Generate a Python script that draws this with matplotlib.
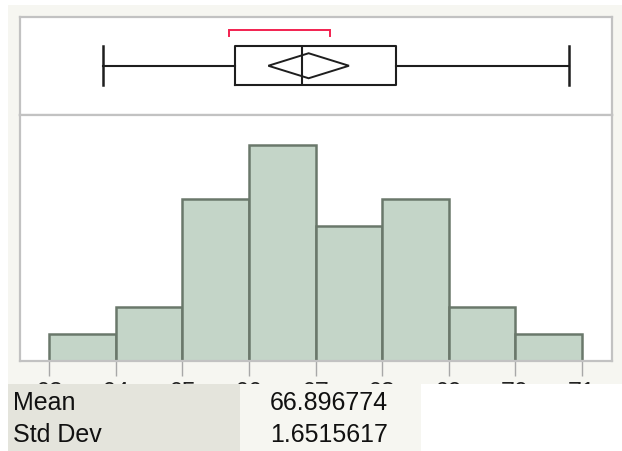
import matplotlib
matplotlib.use("Agg")
import matplotlib.pyplot as plt
from matplotlib.patches import Rectangle, Polygon
import numpy as np

# ---- data ----
bin_edges = [63, 64, 65, 66, 67, 68, 69, 70, 71]
counts = [1, 2, 6, 8, 5, 6, 2, 1]
tick_labels = ["63", "64", "65", "66", "67", "68", "69", "70", "71"]
whisker_low = 63.81
q1 = 65.79
median = 66.79
q3 = 68.21
whisker_high = 70.81
mean = 66.896774
std_dev = 1.6515617
n_obs = 31
t_crit = 2.042
shortest_half = [65.70, 67.22]
stat_names = ["Mean", "Std Dev"]
stat_values = ["66.896774", "1.6515617"]

W, H = 622, 452
fig = plt.figure(figsize=(W / 100, H / 100), dpi=100)
fig.patch.set_facecolor("white")

def fx(px):
    return px / W

def fy(py):
    return 1 - py / H

# outer light background
fig.patches.append(Rectangle((fx(8), fy(385)), 1 - fx(8), fy(6) - fy(385),
                             transform=fig.transFigure, facecolor="#f6f6f1",
                             edgecolor="none", zorder=-5))

left, right = 19.5, 611.7
top, mid, bottom = 17.5, 116, 361.7
ax_box = fig.add_axes([fx(left), fy(mid), fx(right) - fx(left), fy(top) - fy(mid)])
ax_hist = fig.add_axes([fx(left), fy(bottom), fx(right) - fx(left), fy(mid) - fy(bottom)])

xmin = 63 - (49.3 - left) / 66.55
xmax = 71 + (right - 581.7) / 66.55
border_col = "#c2c2c2"
for ax in (ax_box, ax_hist):
    ax.set_xlim(xmin, xmax)
    ax.set_facecolor("white")
    for s in ax.spines.values():
        s.set_color(border_col)
        s.set_linewidth(1.6)

# ---- box plot panel ----
ax_box.set_ylim(0, 1)
ax_box.set_xticks([])
ax_box.set_yticks([])
stats = [dict(whislo=whisker_low, q1=q1, med=median, q3=q3, whishi=whisker_high, fliers=[])]
lc = "#1e1e1e"
ax_box.bxp(stats, positions=[0.5], widths=0.4, capwidths=0.4, orientation="horizontal",
           showfliers=False, manage_ticks=False,
           boxprops=dict(color=lc, linewidth=1.5),
           whiskerprops=dict(color=lc, linewidth=1.5),
           capprops=dict(color=lc, linewidth=1.8),
           medianprops=dict(color=lc, linewidth=1.5))
ci = t_crit * std_dev / np.sqrt(n_obs)
dh = 0.127
ax_box.add_patch(Polygon([(mean - ci, 0.5), (mean, 0.5 + dh), (mean + ci, 0.5), (mean, 0.5 - dh)],
                         closed=True, fill=False, edgecolor=lc, linewidth=1.4))
ax_box.plot([shortest_half[0], shortest_half[0], shortest_half[1], shortest_half[1]],
            [0.805, 0.863, 0.863, 0.805], color="#f2204f", linewidth=1.4,
            solid_joinstyle="miter")

# ---- histogram panel ----
ax_hist.set_ylim(0, 9.1)
ax_hist.set_yticks([])
ax_hist.bar(bin_edges[:-1], counts, width=1, align="edge", color="#c4d5c8",
            edgecolor="#6a786b", linewidth=1.8)
ax_hist.set_xticks(bin_edges)
ax_hist.set_xticklabels(tick_labels, fontfamily="Liberation Sans", fontsize=18)
ax_hist.tick_params(axis="x", length=10.8, width=1.0, color="#a8a8a8", pad=3.0,
                    labelcolor="#222222")

# ---- summary table ----
fig.patches.append(Rectangle((fx(8), 0), fx(240) - fx(8), fy(385),
                             transform=fig.transFigure, facecolor="#e4e4dc",
                             edgecolor="none", zorder=5))
fig.patches.append(Rectangle((fx(240), 0), fx(421) - fx(240), fy(385),
                             transform=fig.transFigure, facecolor="#f6f6f1",
                             edgecolor="none", zorder=5))
fig.patches.append(Rectangle((fx(421), 0), 1 - fx(421), fy(385),
                             transform=fig.transFigure, facecolor="white",
                             edgecolor="none", zorder=5))
baselines = [410, 442]
for name, val, b in zip(stat_names, stat_values, baselines):
    fig.text(fx(13), fy(b), name, ha="left", va="baseline", fontsize=18,
             fontfamily="Liberation Sans", color="#111111", zorder=6)
    fig.text(fx(388), fy(b), val, ha="right", va="baseline", fontsize=18,
             fontfamily="Liberation Sans", color="#111111", zorder=6)

fig.savefig("out.png", dpi=100)
